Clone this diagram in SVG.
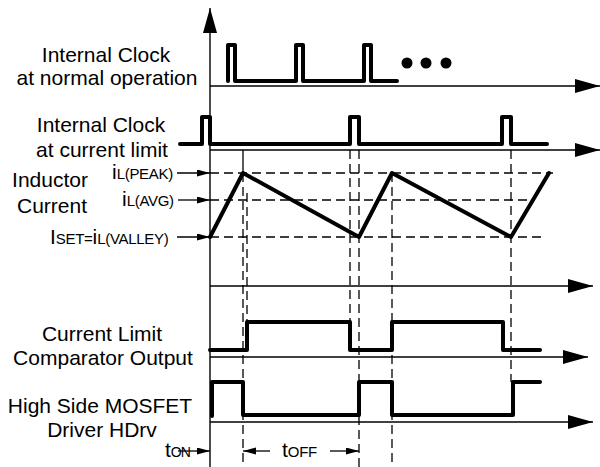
<svg xmlns="http://www.w3.org/2000/svg" width="600" height="467" viewBox="0 0 600 467">
<defs>
<style>
.axis{stroke:#000;stroke-width:1.4;fill:none}
.sig{stroke:#000;stroke-width:4;fill:none;stroke-linejoin:round;stroke-linecap:round}
.dash{stroke:#000;stroke-width:1.3;fill:none;stroke-dasharray:9,5}
.thin{stroke:#000;stroke-width:1.3;fill:none}
.lbl{font-family:"Liberation Sans",Arial,sans-serif;font-size:21px;fill:#000;text-anchor:middle}
.big{font-family:"Liberation Sans",Arial,sans-serif;font-size:21px;fill:#000}
.sub{font-size:15px;letter-spacing:-0.3px}
</style>
<marker id="ax" markerUnits="userSpaceOnUse" markerWidth="26" markerHeight="16" refX="25" refY="7" orient="auto">
<path d="M0,0 L25,7 L0,14 z" fill="#000"/>
</marker>
<marker id="sa" markerUnits="userSpaceOnUse" markerWidth="14" markerHeight="8" refX="13" refY="3.5" orient="auto">
<path d="M0,0 L13,3.5 L0,7 z" fill="#000"/>
</marker>
</defs>
<rect width="600" height="467" fill="#fff"/>

<g id="axes">
<line class="axis" x1="210" y1="467" x2="210" y2="8" marker-end="url(#ax)"/>
<line class="axis" x1="210" y1="86" x2="600" y2="86" marker-end="url(#ax)"/>
<line class="axis" x1="210" y1="150" x2="600" y2="150" marker-end="url(#ax)"/>
<line class="axis" x1="210" y1="286" x2="593" y2="286" marker-end="url(#ax)"/>
<line class="axis" x1="210" y1="357" x2="588" y2="357" marker-end="url(#ax)"/>
<line class="axis" x1="210" y1="422" x2="593" y2="422" marker-end="url(#ax)"/>
</g>

<g id="connectors">
<line class="dash" x1="210" y1="173" x2="553" y2="173"/>
<line class="dash" x1="210" y1="200" x2="533" y2="200"/>
<line class="dash" x1="210" y1="237" x2="542" y2="237"/>
<line class="thin" x1="243" y1="150" x2="243" y2="173"/>
<line class="dash" x1="243" y1="173" x2="243" y2="467"/>
<line class="dash" x1="247" y1="193" x2="247" y2="322"/>
<line class="dash" x1="350" y1="150" x2="350" y2="322"/>
<line class="dash" x1="359" y1="150" x2="359" y2="467"/>
<line class="dash" x1="392" y1="173" x2="392" y2="467"/>
<line class="dash" x1="511" y1="150" x2="511" y2="382"/>
<line class="thin" x1="177" y1="173" x2="210" y2="173" marker-end="url(#sa)"/>
<line class="thin" x1="178" y1="200" x2="210" y2="200" marker-end="url(#sa)"/>
<line class="thin" x1="177" y1="237" x2="210" y2="237" marker-end="url(#sa)"/>
<line class="thin" x1="178" y1="451" x2="210" y2="451" marker-end="url(#sa)"/>
<line class="thin" x1="270" y1="451" x2="243" y2="451" marker-end="url(#sa)"/>
<line class="thin" x1="330" y1="451" x2="359" y2="451" marker-end="url(#sa)"/>
</g>

<g id="clock-normal">
<text class="lbl" x="106" y="62">Internal Clock</text>
<text class="lbl" x="107" y="85">at normal operation</text>
<path class="sig" d="M228,81 V45 H235 V81 H296 V45 H303 V81 H364 V45 H371 V81 H397"/>
<circle cx="407" cy="63" r="5.5"/>
<circle cx="426" cy="63" r="5.5"/>
<circle cx="446" cy="63" r="5.5"/>
</g>

<g id="clock-limit">
<text class="lbl" x="101" y="132">Internal Clock</text>
<text class="lbl" x="102" y="157">at current limit</text>
<path class="sig" d="M180,144 H202 V117 H210 V144 H350 V117 H359 V144 H502 V117 H511 V144 H547"/>
</g>

<g id="inductor-current">
<text class="lbl" x="50" y="187">Inductor</text>
<text class="lbl" x="52" y="213">Current</text>
<text class="big" x="112" y="179">i<tspan class="sub">L(PEAK)</tspan></text>
<text class="big" x="122" y="206">i<tspan class="sub">L(AVG)</tspan></text>
<text class="big" x="50" y="244">I<tspan class="sub">SET=</tspan>i<tspan class="sub">L(VALLEY)</tspan></text>
<polyline class="sig" points="210,237 243,173 359,237 392,173 511,237 549,173"/>
</g>

<g id="comparator">
<text class="lbl" x="102" y="341">Current Limit</text>
<text class="lbl" x="103" y="365">Comparator Output</text>
<path class="sig" d="M210,350 H247 V322 H350 V350 H392 V322 H503 V350 H540"/>
</g>

<g id="hdrv">
<text class="lbl" x="100" y="413">High Side MOSFET</text>
<text class="lbl" x="102" y="437">Driver HDrv</text>
<path class="sig" d="M212,416 V382 H243 V415 H359 V382 H392 V415 H513 V382 H540"/>
</g>

<g id="timing">
<text class="big" x="165" y="457">t<tspan style="font-size:14px;letter-spacing:-1px">ON</tspan></text>
<text class="big" x="282" y="457">t<tspan class="sub">OFF</tspan></text>
</g>
</svg>
